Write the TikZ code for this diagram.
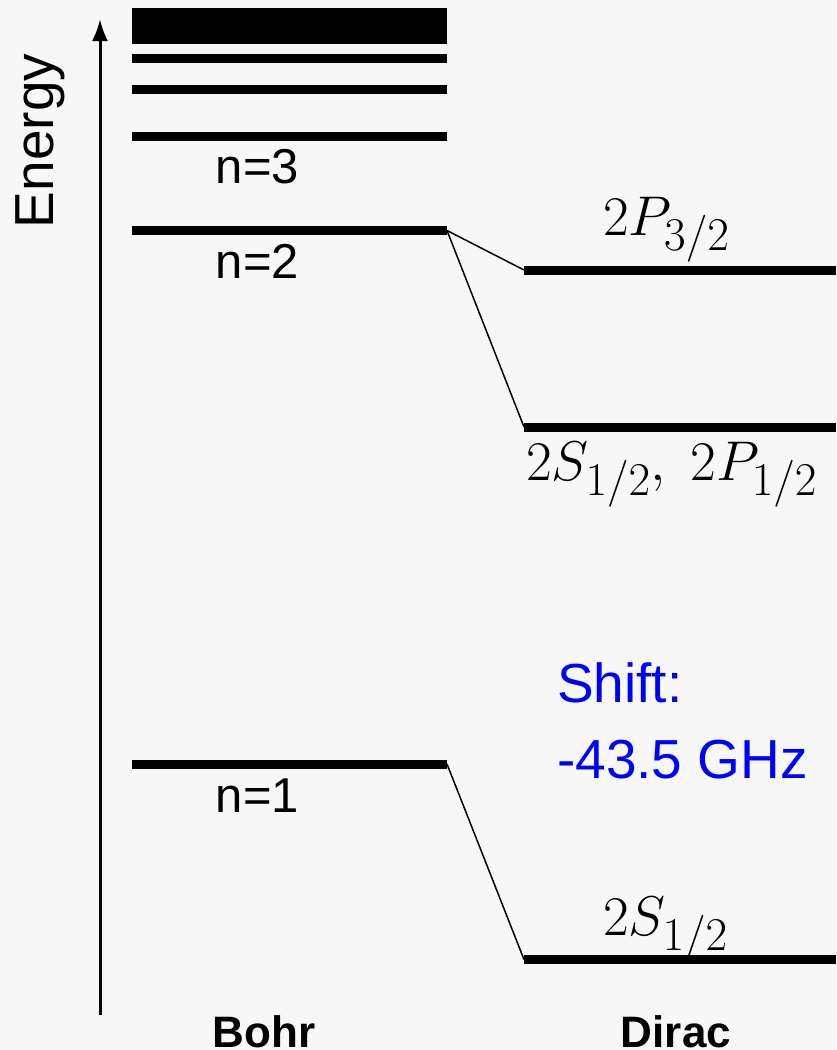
\RequirePackage{fix-cm}
\documentclass[tikz,border=0pt]{standalone}
\usepackage{fontspec}
\setmainfont{Liberation Sans}
\usepackage{tikz}
\usepackage{amsmath}
\usetikzlibrary{arrows.meta,positioning}
\DeclareMathSizes{56}{56}{47}{38}
\definecolor{bgGray}    {RGB}{247,247,247}
\definecolor{shiftBlue} {RGB}{0,  0,  255}

\begin{document}
\begin{tikzpicture}[x=1pt,y=-1pt,
    level/.style={line width=9pt},
    link/.style={line width=1.5pt},
    nlabel/.style={anchor=base,inner sep=0pt,font=\fontsize{49}{56}\selectfont},
    mlabel/.style={anchor=base west,inner sep=0pt,font=\fontsize{56}{62}\selectfont},
    colhead/.style={anchor=base,inner sep=0pt,font=\fontsize{44}{52}\selectfont\bfseries}]

    % ─── Fundo e limites ──────────────────────────────────
    \fill[bgGray] (0,0) rectangle (836,1050);
    \useasboundingbox (0,0) rectangle (836,1050);

    % ─── Eixo de energia ──────────────────────────────────
    \coordinate (axisBot) at (100,1015);
    \coordinate (axisTop) at (100,19);
    \draw[line width=3pt,-{Latex[length=22pt,width=16pt]}] (axisBot) -- (axisTop);
    \node[rotate=90,anchor=base,inner sep=0pt,font=\fontsize{55}{62}\selectfont]
      (energy) at (53,141) {Energy};

    % ─── Bohr: niveis n ───────────────────────────────────
    \fill (132,8) rectangle (447,44);
    \foreach \y in {58.5, 89.5, 136.5}{
      \draw[level] (132,\y) -- (447,\y);
    }
    \coordinate (nTwoL) at (132,230.5);
    \coordinate (nTwoR) at (447,230.5);
    \coordinate (nOneL) at (132,764);
    \coordinate (nOneR) at (447,764);
    \draw[level] (nTwoL) -- (nTwoR);
    \draw[level] (nOneL) -- (nOneR);
    \node[nlabel] (nThree) at (257.5,183) {n=3};
    \node[nlabel] (nTwo)   at (257.5,278) {n=2};
    \node[nlabel] (nOne)   at (257.5,812) {n=1};

    % ─── Dirac: estrutura fina ────────────────────────────
    \coordinate (pThreeL) at (524,270);
    \coordinate (pThreeR) at (836,270);
    \coordinate (sOneL)   at (524,427);
    \coordinate (sOneR)   at (836,427);
    \coordinate (groundL) at (524,959.5);
    \coordinate (groundR) at (836,959.5);
    \draw[level] (pThreeL) -- (pThreeR);
    \draw[level] (sOneL) -- (sOneR);
    \draw[level] (groundL) -- (groundR);
    \node[mlabel] (pThree) at (603,235) {$2P_{3/2}$};
    \node[mlabel] (sOne)   at (526,480) {$2S_{1/2},\ 2P_{1/2}$};
    \node[mlabel] (ground) at (603,935) {$2S_{1/2}$};

    % Ligacoes entre niveis
    \draw[link] (nTwoR) -- (pThreeL);
    \draw[link] (nTwoR) -- (sOneL);
    \draw[link] (nOneR) -- (groundL);

    % Deslocamento
    \node[anchor=base west,inner sep=0pt,shiftBlue,font=\fontsize{55}{62}\selectfont]
      (shiftA) at (557,702) {Shift:};
    \node[anchor=base west,inner sep=0pt,shiftBlue,font=\fontsize{55}{62}\selectfont]
      (shiftB) at (557,778) {-43.5 GHz};

    % ─── Titulos das colunas ──────────────────────────────
    \node[colhead] (bohr)  at (264,1047) {Bohr};
    \node[colhead] (dirac) at (676,1047) {Dirac};

\end{tikzpicture}
\end{document}
